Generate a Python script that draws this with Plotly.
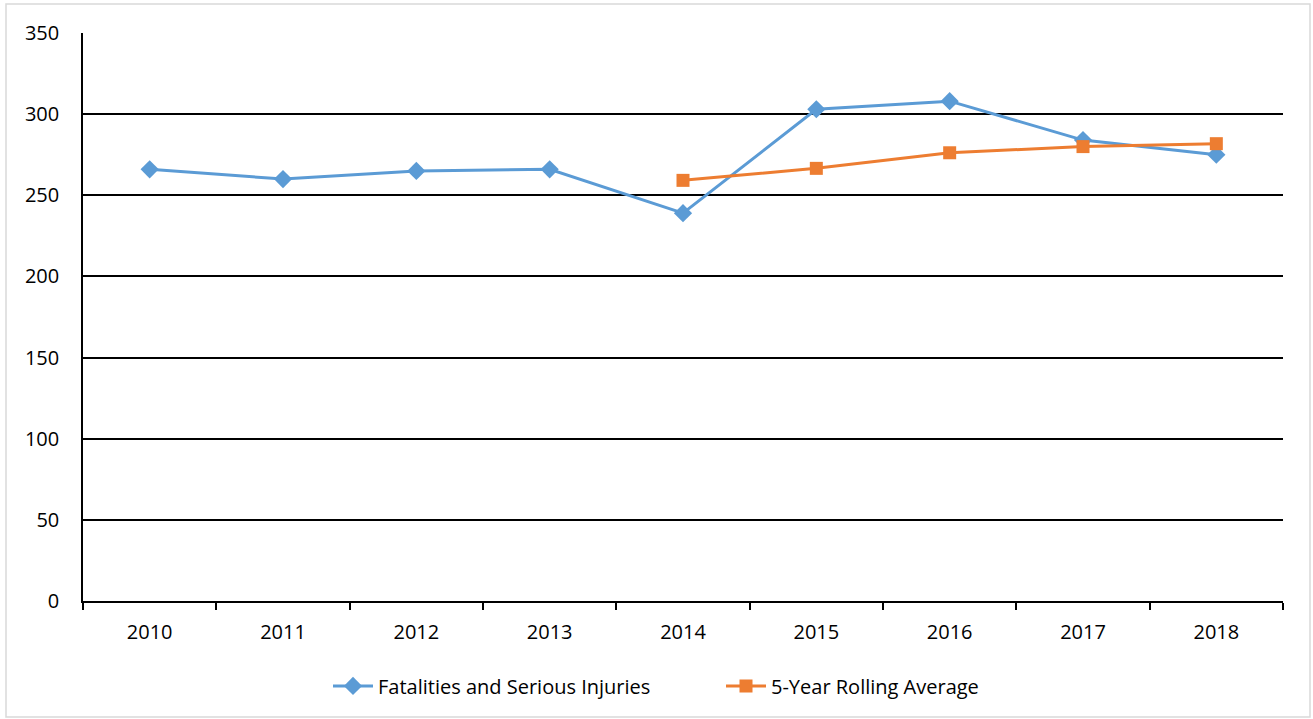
import plotly.graph_objects as go

years = ["2010", "2011", "2012", "2013", "2014", "2015", "2016", "2017", "2018"]
fsi = [266, 260, 265, 266, 239, 303, 308, 284, 275]
avg_years = ["2014", "2015", "2016", "2017", "2018"]
rolling_avg = [259.2, 266.6, 276.2, 280, 281.8]
y_ticks = [0, 50, 100, 150, 200, 250, 300, 350]

BLUE = "#5B9BD5"
ORANGE = "#ED7D31"
FONT = "Open Sans, Liberation Sans, sans-serif"

fig = go.Figure()
fig.add_trace(go.Scatter(
    x=years, y=fsi, name="Fatalities and Serious Injuries",
    mode="lines+markers",
    line=dict(color=BLUE, width=3),
    marker=dict(symbol="diamond", size=14, color=BLUE),
))
fig.add_trace(go.Scatter(
    x=avg_years, y=rolling_avg, name="5-Year Rolling Average",
    mode="lines+markers",
    line=dict(color=ORANGE, width=3),
    marker=dict(symbol="square", size=13, color=ORANGE),
))

fig.update_layout(
    width=1313, height=719,
    margin=dict(l=83, r=30, t=33, b=118),
    paper_bgcolor="white", plot_bgcolor="white",
    font=dict(family=FONT, size=20, color="#000000"),
    showlegend=True,
    legend=dict(orientation="h", x=(328 - 83) / 1200, y=-0.1496, xanchor="left", yanchor="middle",
                font=dict(size=20), traceorder="normal", entrywidth=338, itemwidth=40),
    xaxis=dict(
        type="category", categoryorder="array", categoryarray=years,
        range=[-0.5, 8.5], showgrid=False, zeroline=False,
        showline=True, linecolor="black", linewidth=1.5,
        ticks="outside", tickson="boundaries", ticklen=7, tickwidth=1.5, tickcolor="black",
        ticklabelstandoff=12,
    ),
    yaxis=dict(
        range=[0, 350], tickvals=y_ticks, showgrid=True, gridcolor="black", gridwidth=1.5,
        zeroline=False, showline=True, linecolor="black", linewidth=1.5,
        ticks="", ticklabelstandoff=18,
    ),
    shapes=[dict(type="rect", xref="paper", yref="paper",
                 x0=(6 - 83) / 1200, x1=(1310 - 83) / 1200,
                 y0=(601 - 717) / 568, y1=(601 - 4) / 568,
                 line=dict(color="#d9d9d9", width=1.5), fillcolor="rgba(0,0,0,0)", layer="below")],
)

fig.write_html("out.html")
